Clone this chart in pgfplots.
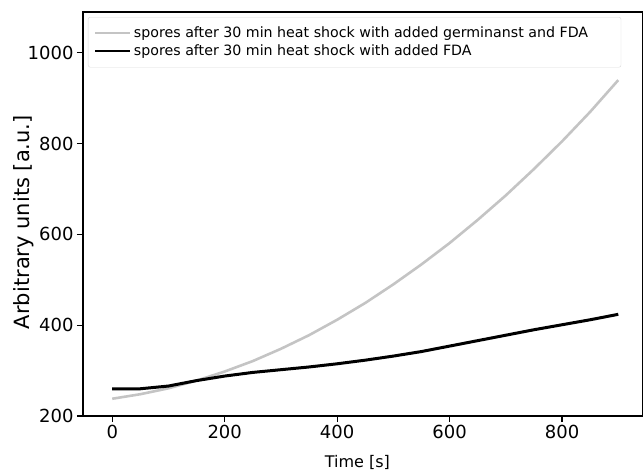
\documentclass[border=0pt]{standalone}
\usepackage{pgfplots}
\pgfplotsset{compat=1.18}
\usepackage{fontspec}
\setmainfont{DejaVu Sans}
\definecolor{lgray}{HTML}{C4C4C4}
\begin{document}
\begin{tikzpicture}
\useasboundingbox (-83bp,-57bp) rectangle (560bp,416bp);
\begin{axis}[
  at={(0,0)}, anchor=south west,
  scale only axis, width=560bp, height=404bp,
  xmin=-52, xmax=944, ymin=200, ymax=1090,
  xtick={0,200,400,600,800}, ytick={200,400,600,800,1000},
  tick align=outside, major tick length=6bp,
  tick style={line width=1.2bp, black},
  xtick pos=bottom, ytick pos=left,
  axis line style={line width=1.5bp},
  /pgf/number format/assume math mode=true,
  /pgf/number format/set thousands separator={},
  ticklabel style={font=\fontsize{18bp}{21bp}\selectfont},
  xlabel={Time [s]}, ylabel={Arbitrary units [a.u.]},
  xlabel style={font=\fontsize{16bp}{19bp}\selectfont, at={(axis description cs:0.49,-0.114)}, anchor=center},
  ylabel style={font=\fontsize{21bp}{24bp}\selectfont, at={(axis description cs:-0.105,0.48)}, anchor=center},
  legend cell align=left,
  legend style={at={(axis description cs:0,1)}, anchor=north west, xshift=5bp, yshift=-5bp,
    font=\fontsize{14.2bp}{16bp}\selectfont, draw=black!15, rounded corners=2bp,
    inner xsep=6bp, inner ysep=7bp,
    nodes={inner xsep=3bp, inner ysep=2.5bp, text height=10.5bp, text depth=2.5bp},
    /tikz/every even column/.append style={column sep=3bp}},
  legend image code/.code={\draw[#1, line width=1.8bp] (0bp,0bp) -- (35bp,0bp);},
]
\addplot[lgray, line width=2.6bp] coordinates {
(0,238) (50,248) (100,261) (150,278) (200,298) (250,321) (300,348) (350,378)
(400,412) (450,449) (500,490) (550,534) (600,581) (650,632) (700,686) (750,744)
(800,805) (850,870) (900,940)};
\addlegendentry{\makebox[478bp][l]{spores after 30 min heat shock with added germinanst and FDA}}
\addplot[black, line width=3bp] coordinates {
(0,260) (50,260) (100,266) (150,278) (200,288) (250,296) (300,302) (350,308)
(400,315) (450,323) (500,332) (550,342) (600,354) (650,366) (700,378) (750,390)
(800,401) (850,412) (900,424)};
\addlegendentry{spores after 30 min heat shock with added FDA}
\end{axis}
\end{tikzpicture}
\end{document}
